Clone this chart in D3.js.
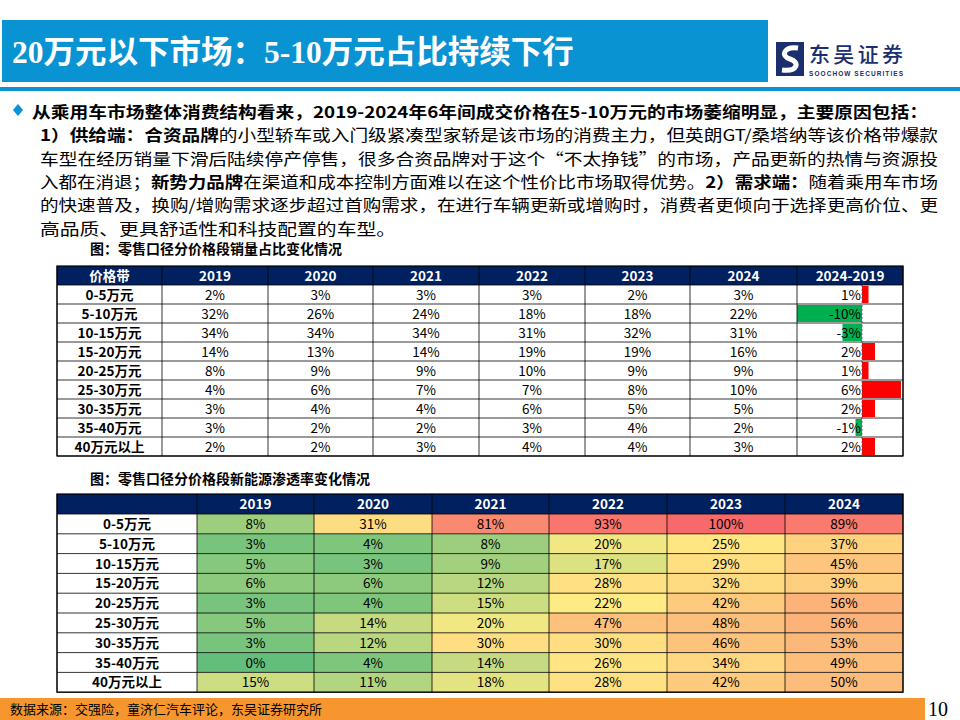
<!DOCTYPE html>
<html><head><meta charset="utf-8">
<script src="https://cdn.jsdelivr.net/npm/d3@7"></script>
<style>body{margin:0;background:#fff}svg{display:block}</style></head>
<body><svg id="c" width="960" height="720"></svg>
<script>
const bands = ["0-5万元","5-10万元","10-15万元","15-20万元","20-25万元","25-30万元","30-35万元","35-40万元","40万元以上"];
const years = ["2019","2020","2021","2022","2023","2024"];
const share = [
 [2,3,3,3,2,3],[32,26,24,18,18,22],[34,34,34,31,32,31],[14,13,14,19,19,16],
 [8,9,9,10,9,9],[4,6,7,7,8,10],[3,4,4,6,5,5],[3,2,2,3,4,2],[2,2,3,4,4,3]];
const diff = [1,-10,-3,2,1,6,2,-1,2];
const nev = [
 [8,31,81,93,100,89],[3,4,8,20,25,37],[5,3,9,17,29,45],[6,6,12,28,32,39],
 [3,4,15,22,42,56],[5,14,20,47,48,56],[3,12,30,30,46,53],[0,4,14,26,34,49],[15,11,18,28,42,50]];

const svg = d3.select("#c");
const CJK = "'Noto Sans CJK SC','Noto Sans',sans-serif";
const NAVY = "#002060";
const FS = 13.5;

// header
svg.append("rect").attr("x",2).attr("y",20).attr("width",766).attr("height",62).attr("fill","#0A93D3");
svg.append("text").attr("x",12).attr("y",63).attr("fill","#fff").attr("font-size",31.5).attr("font-weight",700)
 .attr("font-family","'Liberation Serif','Noto Sans CJK SC',serif").text("20万元以下市场：5-10万元占比持续下行");
svg.append("rect").attr("x",0).attr("y",87).attr("width",960).attr("height",4).attr("fill","#0A93D3");
// logo
const lg = svg.append("g");
lg.append("rect").attr("x",776).attr("y",42).attr("width",28).attr("height",34).attr("fill","#1B2F6E");
lg.append("path").attr("d","M798,48 C784,46 780,56 790,59 C800,62 798,72 782,70").attr("stroke","#fff").attr("stroke-width",5).attr("fill","none");
lg.append("text").attr("x",809).attr("y",62).attr("font-size",21).attr("fill","#1B2F6E").attr("font-family",CJK).attr("font-weight",500).attr("textLength",94).text("东吴证券");
lg.append("text").attr("x",809).attr("y",76).attr("font-size",6.5).attr("fill","#1B2F6E").attr("font-family","'Liberation Sans',sans-serif").attr("font-weight",700).attr("textLength",94).text("SOOCHOW SECURITIES");

// body text
svg.append("path").attr("d","M13,110 L18,104 L23,110 L18,116 Z").attr("fill","#0A93D3");
const lines = [
 {x:32,w:896,segs:[[1,"从乘用车市场整体消费结构看来，2019-2024年6年间成交价格在5-10万元的市场萎缩明显，主要原因包括："]]},
 {x:40,w:898,segs:[[1,"1）供给端：合资品牌"],[0,"的小型轿车或入门级紧凑型家轿是该市场的消费主力，但英朗GT/桑塔纳等该价格带爆款"]]},
 {x:40,w:898,segs:[[0,"车型在经历销量下滑后陆续停产停售，很多合资品牌对于这个“不太挣钱”的市场，产品更新的热情与资源投"]]},
 {x:40,w:898,segs:[[0,"入都在消退；"],[1,"新势力品牌"],[0,"在渠道和成本控制方面难以在这个性价比市场取得优势。"],[1,"2）需求端："],[0,"随着乘用车市场"]]},
 {x:40,w:898,segs:[[0,"的快速普及，换购/增购需求逐步超过首购需求，在进行车辆更新或增购时，消费者更倾向于选择更高价位、更"]]},
 {x:40,w:356,segs:[[0,"高品质、更具舒适性和科技配置的车型。"]]}];
lines.forEach((l,i)=>{
  const t = svg.append("text").attr("x",l.x).attr("y",118+i*23.3).attr("font-size",16).attr("font-family",CJK).attr("fill","#000");
  if(l.w) t.attr("textLength",l.w).attr("lengthAdjust","spacingAndGlyphs");
  l.segs.forEach(s=>t.append("tspan").attr("font-weight",s[0]?700:400).text(s[1]));
});

// captions
svg.append("text").attr("x",90).attr("y",254).attr("font-size",14).attr("font-weight",700).attr("font-family",CJK).text("图：零售口径分价格段销量占比变化情况");
svg.append("text").attr("x",90).attr("y",484).attr("font-size",14).attr("font-weight",700).attr("font-family",CJK).text("图：零售口径分价格段新能源渗透率变化情况");

function table(y0,hh,colX,head){
  const g = svg.append("g");
  const W = colX[colX.length-1]-colX[0];
  g.append("rect").attr("x",colX[0]).attr("y",y0).attr("width",W).attr("height",hh).attr("fill",NAVY);
  head.forEach((h,i)=>g.append("text").attr("x",(colX[i]+colX[i+1])/2).attr("y",y0+hh/2+5)
    .attr("text-anchor","middle").attr("fill","#fff").attr("font-size",FS).attr("font-weight",700).attr("font-family",CJK).text(h));
  return g;
}
// table 1
const c1 = [57,162,268,373,479,585,690,797,903];
const y1 = 266, hh1=19, rh1=19;
const g1 = table(y1,hh1,c1,["价格带",...years,"2024-2019"]);
const yr1 = d3.scaleBand().domain(bands).range([y1+hh1,y1+hh1+rh1*9]);
const xd = d3.scaleLinear().domain([-10,6]).range([797,901]);
bands.forEach((b,r)=>{
  const y = yr1(b);
  const d = diff[r];
  g1.append("rect").attr("x",Math.min(xd(0),xd(d))).attr("y",y+1).attr("width",Math.abs(xd(d)-xd(0))).attr("height",rh1-2)
    .attr("fill",d<0?"#00B050":"#FF0000");
  g1.append("text").attr("x",(c1[0]+c1[1])/2).attr("y",y+rh1/2+5).attr("text-anchor","middle").attr("font-size",FS).attr("font-weight",700).attr("font-family",CJK).text(b);
  share[r].forEach((v,j)=>g1.append("text").attr("x",(c1[j+1]+c1[j+2])/2).attr("y",y+rh1/2+5).attr("text-anchor","middle").attr("font-size",FS).attr("font-family",CJK).text(v+"%"));
  g1.append("text").attr("x",xd(0)-1).attr("y",y+rh1/2+5).attr("text-anchor","end").attr("font-size",FS).attr("font-family",CJK).text(d+"%");
});
g1.append("line").attr("x1",xd(0)).attr("x2",xd(0)).attr("y1",y1+hh1).attr("y2",y1+hh1+rh1*9).attr("stroke","#555").attr("stroke-dasharray","2,2").attr("stroke-width",0.8);
for(let r=0;r<=9;r++) g1.append("line").attr("x1",57).attr("x2",903).attr("y1",y1+hh1+r*rh1).attr("y2",y1+hh1+r*rh1).attr("stroke","#000").attr("stroke-width",0.8);
c1.forEach(x=>g1.append("line").attr("x1",x).attr("x2",x).attr("y1",y1).attr("y2",y1+hh1+rh1*9).attr("stroke","#000").attr("stroke-width",0.8));
g1.append("rect").attr("x",57).attr("y",y1).attr("width",846).attr("height",hh1+rh1*9).attr("fill","none").attr("stroke","#000").attr("stroke-width",1.2);

// table 2
const c2 = [57,197,314,432,549,667,785,903];
const y2 = 494, hh2=20, rh2=19.8;
const g2 = table(y2,hh2,c2,["",...years]);
const col = d3.scaleLinear().domain([0,22,100]).range(["#63BE7B","#FFEB84","#F8696B"]);
bands.forEach((b,r)=>{
  const y = y2+hh2+r*rh2;
  g2.append("text").attr("x",(c2[0]+c2[1])/2).attr("y",y+rh2/2+5).attr("text-anchor","middle").attr("font-size",FS).attr("font-weight",700).attr("font-family",CJK).text(b);
  nev[r].forEach((v,j)=>{
    g2.append("rect").attr("x",c2[j+1]).attr("y",y).attr("width",c2[j+2]-c2[j+1]).attr("height",rh2).attr("fill",col(v));
    g2.append("text").attr("x",(c2[j+1]+c2[j+2])/2).attr("y",y+rh2/2+5).attr("text-anchor","middle").attr("font-size",FS).attr("font-family",CJK).text(v+"%");
  });
});
for(let r=0;r<=9;r++) g2.append("line").attr("x1",57).attr("x2",903).attr("y1",y2+hh2+r*rh2).attr("y2",y2+hh2+r*rh2).attr("stroke","#000").attr("stroke-width",0.8);
c2.forEach(x=>g2.append("line").attr("x1",x).attr("x2",x).attr("y1",y2).attr("y2",y2+hh2+rh2*9).attr("stroke","#000").attr("stroke-width",0.8));
g2.append("rect").attr("x",57).attr("y",y2).attr("width",846).attr("height",hh2+rh2*9).attr("fill","none").attr("stroke","#000").attr("stroke-width",1.2);

// footer
svg.append("rect").attr("x",0).attr("y",698).attr("width",925).attr("height",22).attr("fill","#F7962E");
svg.append("text").attr("x",10).attr("y",714).attr("font-size",13).attr("font-family",CJK).text("数据来源：交强险，童济仁汽车评论，东吴证券研究所");
svg.append("text").attr("x",948).attr("y",716).attr("text-anchor","end").attr("font-size",20).attr("font-family","'Liberation Serif',serif").text("10");
</script></body></html>
